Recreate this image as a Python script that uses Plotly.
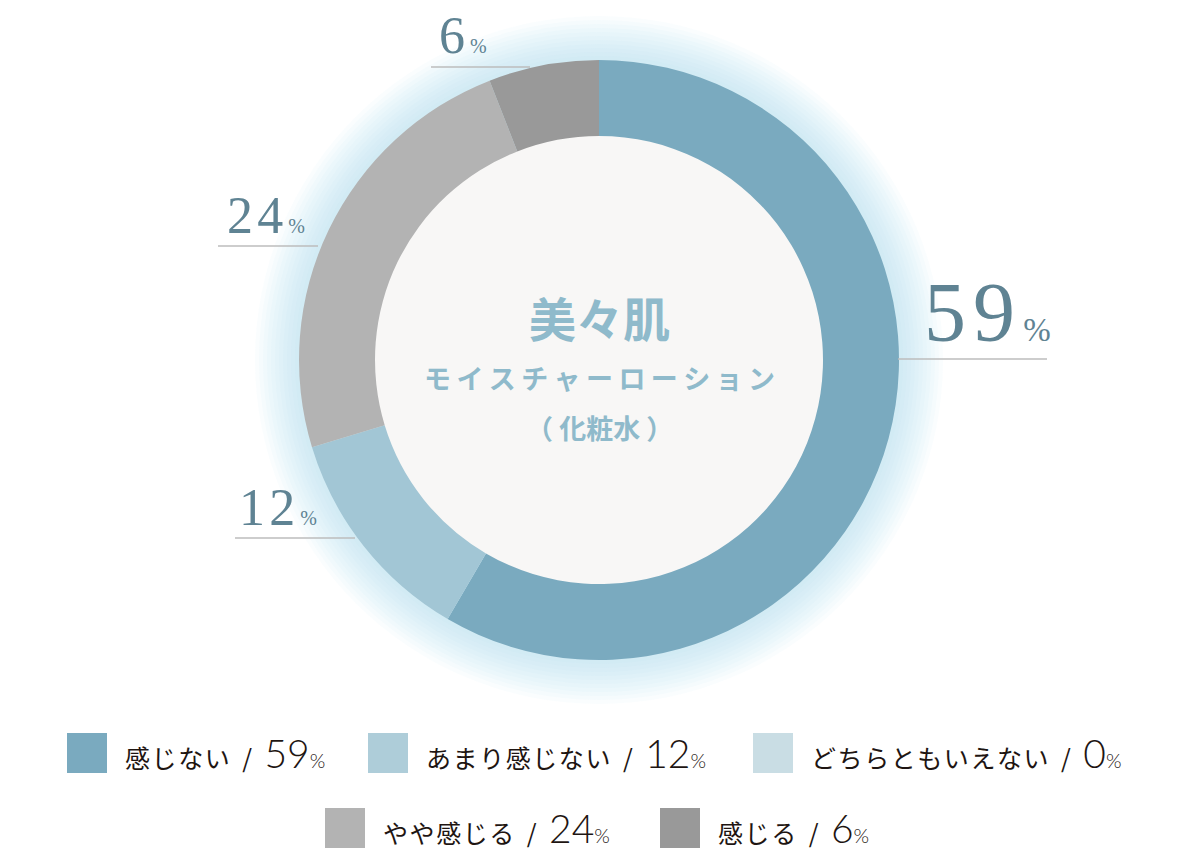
import plotly.graph_objects as go

# data
labels = ['感じない', 'あまり感じない', 'どちらともいえない', 'やや感じる', '感じる']
values = [59, 12, 0, 24, 6]
colors = ['#7aaabf', '#a2c6d5', '#c9dde4', '#b3b3b3', '#999999']
legend_colors = ['#7aaabf', '#aecdd9', '#c9dde4', '#b3b3b3', '#999999']
center_lines = ['美々肌', 'モイスチャーローション', '（ 化粧水 ）']

W, H = 1200, 850
CX, CY, R_OUT, R_IN = 599, 360, 300, 224


def px(x):
    return x / W


def py(y):
    return 1 - y / H


def circle(r, fill):
    return dict(
        type='circle', xref='paper', yref='paper', layer='below',
        x0=px(CX - r), x1=px(CX + r), y0=py(CY + r), y1=py(CY - r),
        fillcolor=fill, line=dict(width=0)
    )


fig = go.Figure()

fig.add_trace(
    go.Pie(
        labels=labels,
        values=values,
        hole=R_IN / R_OUT,
        sort=False,
        direction='clockwise',
        rotation=0,
        marker=dict(colors=colors, line=dict(width=0)),
        textinfo='none',
        hoverinfo='label+value',
        showlegend=False,
        domain=dict(x=[px(CX - R_OUT), px(CX + R_OUT)],
                    y=[py(CY + R_OUT), py(CY - R_OUT)])
    )
)

shapes = []
# soft glow around the ring
for r in range(344, 300, -4):
    shapes.append(circle(r, 'rgba(178,228,242,0.06)'))
# hole background
shapes.append(circle(R_IN + 1, '#f8f7f6'))

# value labels around the ring: (x_left, baseline, line x0, line x1, line y, size)
label_pos = {
    0: (922, 343, 898, 1047, 359, 84),
    1: (237, 527, 235, 355, 538, 52),
    3: (225, 235, 218, 318, 246, 52),
    4: (437, 55, 431, 530, 67, 52),
}
annotations = []
for i, (lx, base, l0, l1, ly, size) in label_pos.items():
    digits = '\u200a'.join(str(values[i]))
    annotations.append(dict(
        x=px(lx), y=py(base), xref='paper', yref='paper',
        xanchor='left', yanchor='bottom', yshift=-size * 0.22,
        showarrow=False,
        text=digits + '<span style="font-size:%dpx"> %%</span>' % (size * 0.4),
        font=dict(family='Liberation Serif', size=size, color='#5f8393')
    ))
    shapes.append(dict(
        type='line', xref='paper', yref='paper',
        x0=px(l0), x1=px(l1), y0=py(ly), y1=py(ly),
        line=dict(color='#bdbdbd', width=1.5)
    ))

# center text
center_y = [316, 377, 427]
center_size = [47, 27, 27]
for txt, y, s in zip(center_lines, center_y, center_size):
    if txt == center_lines[1]:
        txt = '\u2009'.join(txt)
    annotations.append(dict(
        x=px(CX), y=py(y), xref='paper', yref='paper',
        xanchor='center', yanchor='middle', showarrow=False,
        text='<b>%s</b>' % txt,
        font=dict(family='Noto Sans CJK JP', size=s, color='#8fbacb')
    ))

# legend rows
legend_pos = [(67, 753), (368, 753), (753, 753), (325, 828), (660, 828)]
num_style = 'font-family:Lato;font-weight:300;'
for i, (sx, sy) in enumerate(legend_pos):
    shapes.append(dict(
        type='rect', xref='paper', yref='paper',
        x0=px(sx), x1=px(sx + 40), y0=py(sy + 20), y1=py(sy - 20),
        fillcolor=legend_colors[i], line=dict(width=0)
    ))
    annotations.append(dict(
        x=px(sx + 56), y=py(sy), xref='paper', yref='paper',
        xanchor='left', yanchor='middle', showarrow=False,
        text='%s\u2002/\u2002<span style="%sfont-size:39px">%d</span>'
             '<span style="%sfont-size:20px">%%</span>'
             % ('\u200a'.join(labels[i]), num_style, values[i], num_style),
        font=dict(family='Noto Sans CJK JP', size=25, color='#1e1512')
    ))

fig.update_layout(
    width=W, height=H,
    margin=dict(l=0, r=0, t=0, b=0),
    paper_bgcolor='white',
    plot_bgcolor='white',
    shapes=shapes,
    annotations=annotations
)

fig.write_html('out.html', config={'displayModeBar': False},
               post_script="document.body.style.margin='0px';")
